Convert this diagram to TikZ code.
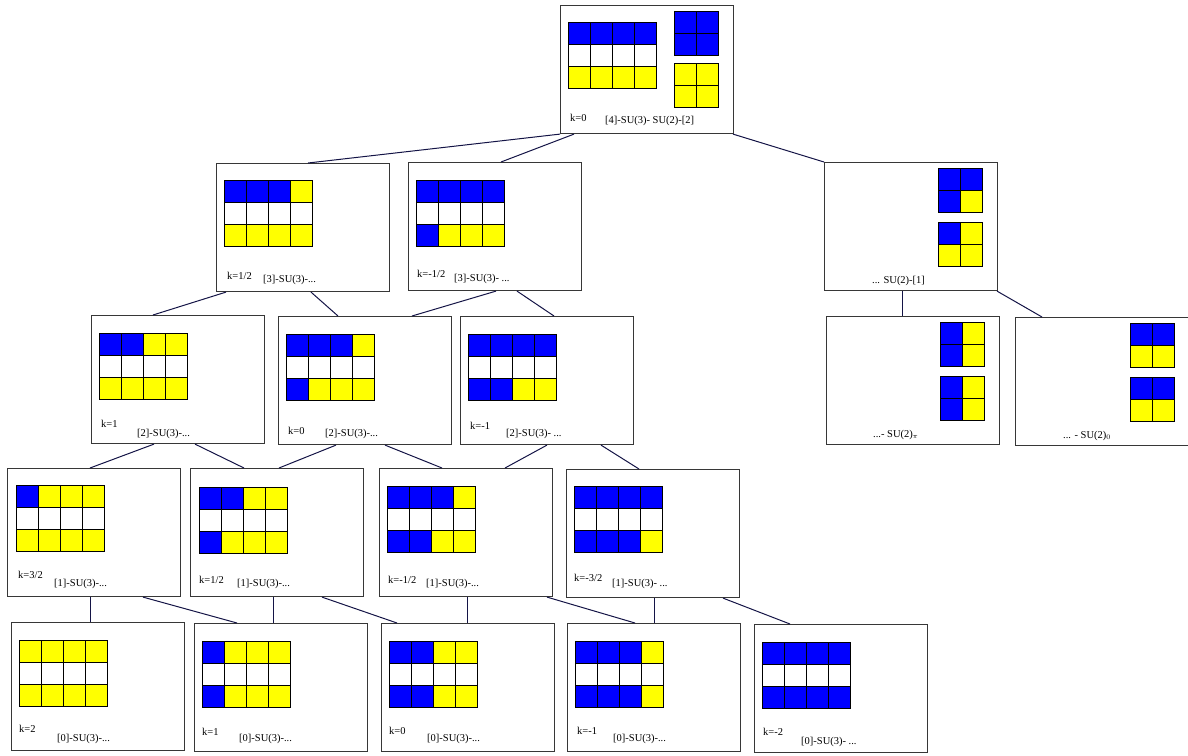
\documentclass[tikz,border=0pt]{standalone}
\usepackage{fontspec}
\setmainfont{Liberation Serif}
\usetikzlibrary{positioning}
\definecolor{cb}{RGB}{0,0,255}
\definecolor{cy}{RGB}{255,255,0}
\definecolor{cw}{RGB}{255,255,255}
\definecolor{panelgray}{RGB}{55,55,55}
\definecolor{linknavy}{RGB}{20,20,70}
\tikzset{
  panel/.style={draw=panelgray, line width=1.1pt, anchor=north west,
                minimum width=173pt, minimum height=128pt, inner sep=0pt},
  cell/.style ={draw=black, line width=0.9pt},
  lab/.style  ={anchor=base west, inner sep=0pt,
                font=\fontsize{10.5}{12}\selectfont},
  link/.style ={draw=linknavy, line width=1pt},
}
% one row of boxes: x, y, colours
\newcommand{\cellrow}[3]{%
  \foreach \c [count=\i from 0] in {#3}
    {\filldraw[cell, fill=\c] (#1+22*\i,#2) rectangle ++(22,22);}}
% three rows
\newcommand{\tabl}[5]{\cellrow{#1}{#2}{#3}\cellrow{#1}{#2+22}{#4}\cellrow{#1}{#2+44}{#5}}
% two rows
\newcommand{\sqgrid}[4]{\cellrow{#1}{#2}{#3}\cellrow{#1}{#2+22}{#4}}

\begin{document}
\begin{tikzpicture}[x=1pt,y=-1pt]
  \useasboundingbox (0,0) rectangle (1188,755);
  % panels
  \node[panel] (top) at (560,5) {};
  \node[panel] (pA) at (216,163) {};
  \node[panel] (pB) at (408,162) {};
  \node[panel] (pR) at (824,162) {};
  \node[panel] (pC) at (91,315) {};
  \node[panel] (pD) at (278,316) {};
  \node[panel] (pE) at (460,316) {};
  \node[panel] (pR1) at (826,316) {};
  \node[panel] (pR2) at (1015,317) {};
  \node[panel] (pF) at (7,468) {};
  \node[panel] (pG) at (190,468) {};
  \node[panel] (pH) at (379,468) {};
  \node[panel] (pI) at (566,469) {};
  \node[panel] (pJ) at (11,622) {};
  \node[panel] (pK) at (194,623) {};
  \node[panel] (pL) at (381,623) {};
  \node[panel] (pM) at (567,623) {};
  \node[panel] (pN) at (754,624) {};

  % tableaux
  \tabl{568}{22}{cb,cb,cb,cb}{cw,cw,cw,cw}{cy,cy,cy,cy}
  \sqgrid{674}{11}{cb,cb}{cb,cb}
  \sqgrid{674}{63}{cy,cy}{cy,cy}
  \tabl{224}{180}{cb,cb,cb,cy}{cw,cw,cw,cw}{cy,cy,cy,cy}
  \tabl{416}{180}{cb,cb,cb,cb}{cw,cw,cw,cw}{cb,cy,cy,cy}
  \sqgrid{938}{168}{cb,cb}{cb,cy}
  \sqgrid{938}{222}{cb,cy}{cy,cy}
  \tabl{99}{333}{cb,cb,cy,cy}{cw,cw,cw,cw}{cy,cy,cy,cy}
  \tabl{286}{334}{cb,cb,cb,cy}{cw,cw,cw,cw}{cb,cy,cy,cy}
  \tabl{468}{334}{cb,cb,cb,cb}{cw,cw,cw,cw}{cb,cb,cy,cy}
  \sqgrid{940}{322}{cb,cy}{cb,cy}
  \sqgrid{940}{376}{cb,cy}{cb,cy}
  \sqgrid{1130}{323}{cb,cb}{cy,cy}
  \sqgrid{1130}{377}{cb,cb}{cy,cy}
  \tabl{16}{485}{cb,cy,cy,cy}{cw,cw,cw,cw}{cy,cy,cy,cy}
  \tabl{199}{487}{cb,cb,cy,cy}{cw,cw,cw,cw}{cb,cy,cy,cy}
  \tabl{387}{486}{cb,cb,cb,cy}{cw,cw,cw,cw}{cb,cb,cy,cy}
  \tabl{574}{486}{cb,cb,cb,cb}{cw,cw,cw,cw}{cb,cb,cb,cy}
  \tabl{19}{640}{cy,cy,cy,cy}{cw,cw,cw,cw}{cy,cy,cy,cy}
  \tabl{202}{641}{cb,cy,cy,cy}{cw,cw,cw,cw}{cb,cy,cy,cy}
  \tabl{389}{641}{cb,cb,cy,cy}{cw,cw,cw,cw}{cb,cb,cy,cy}
  \tabl{575}{641}{cb,cb,cb,cy}{cw,cw,cw,cw}{cb,cb,cb,cy}
  \tabl{762}{642}{cb,cb,cb,cb}{cw,cw,cw,cw}{cb,cb,cb,cb}

  % labels
  \node[lab] (ktop) at (570,121) {k=0};
  \node[lab] (stop) at (605,123) {[4]-SU(3)- SU(2)-[2]};
  \node[lab] (kA) at (227,279) {k=1/2};
  \node[lab] (sA) at (263,282) {[3]-SU(3)-...};
  \node[lab] (kB) at (417,277) {k=-1/2};
  \node[lab] (sB) at (454,281) {[3]-SU(3)- ...};
  \node[lab] (sR) at (872,283) {... SU(2)-[1]};
  \node[lab] (kC) at (101,427) {k=1};
  \node[lab] (sC) at (137,436) {[2]-SU(3)-...};
  \node[lab] (kD) at (288,434) {k=0};
  \node[lab] (sD) at (325,436) {[2]-SU(3)-...};
  \node[lab] (kE) at (470,429) {k=-1};
  \node[lab] (sE) at (506,436) {[2]-SU(3)- ...};
  \node[lab] (sR1) at (873,437) {...- SU(2)$_\pi$};
  \node[lab] (sR2) at (1063,438) {... - SU(2)$_0$};
  \node[lab] (kF) at (18,578) {k=3/2};
  \node[lab] (sF) at (54,586) {[1]-SU(3)-...};
  \node[lab] (kG) at (199,583) {k=1/2};
  \node[lab] (sG) at (237,586) {[1]-SU(3)-...};
  \node[lab] (kH) at (388,583) {k=-1/2};
  \node[lab] (sH) at (426,586) {[1]-SU(3)-...};
  \node[lab] (kI) at (574,581) {k=-3/2};
  \node[lab] (sI) at (612,586) {[1]-SU(3)- ...};
  \node[lab] (kJ) at (19,732) {k=2};
  \node[lab] (sJ) at (57,741) {[0]-SU(3)-...};
  \node[lab] (kK) at (202,735) {k=1};
  \node[lab] (sK) at (239,741) {[0]-SU(3)-...};
  \node[lab] (kL) at (389,734) {k=0};
  \node[lab] (sL) at (427,741) {[0]-SU(3)-...};
  \node[lab] (kM) at (577,734) {k=-1};
  \node[lab] (sM) at (613,741) {[0]-SU(3)-...};
  \node[lab] (kN) at (763,735) {k=-2};
  \node[lab] (sN) at (801,744) {[0]-SU(3)- ...};

  % connectors: parent/offset/child/offset
  \foreach \a/\da/\b/\db in {top/0/pA/92, top/14/pB/93, top/173/pR/0,
      pA/10/pC/62, pA/95/pD/60, pB/88/pD/134, pB/109/pE/94,
      pC/63/pF/83, pC/104/pG/54, pD/58/pG/89, pD/107/pH/63,
      pE/87/pH/126, pE/141/pI/73,
      pF/83/pJ/79, pF/136/pK/43, pG/83/pK/79, pG/132/pL/16,
      pH/88/pL/86, pH/168/pM/68, pI/88/pM/87, pI/157/pN/36,
      pR/78/pR1/76, pR/173/pR2/27}
    \draw[link] ([xshift=\da pt]\a.south west) -- ([xshift=\db pt]\b.north west);
\end{tikzpicture}
\end{document}
